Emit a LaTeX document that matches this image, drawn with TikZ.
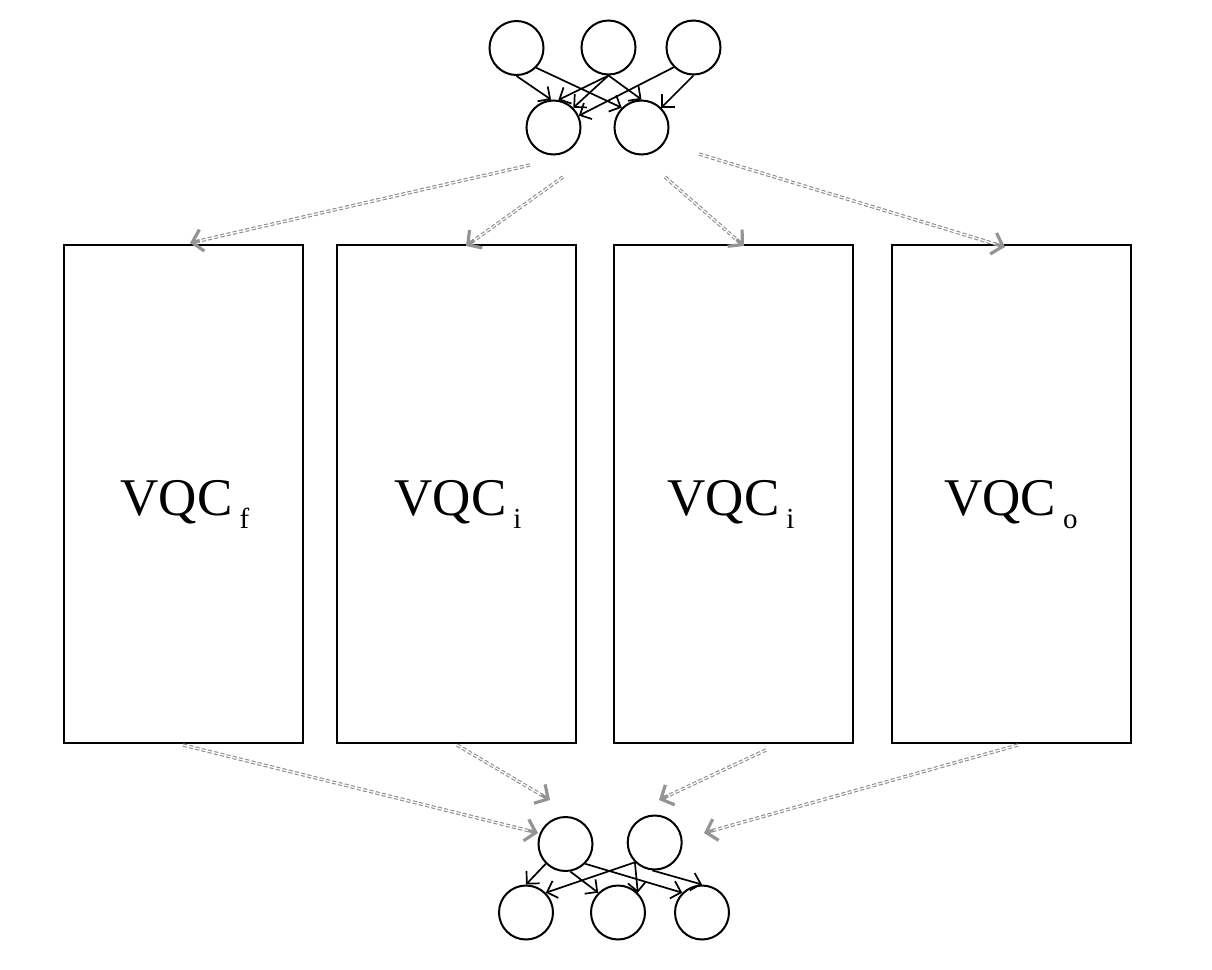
\documentclass[tikz,border=0pt]{standalone}
\usepackage{fontspec}
\setmainfont{Liberation Serif}
\usetikzlibrary{arrows.meta,calc}
\newcommand\vqclabel[1]{VQC\hspace{3.5pt}\raisebox{-6.5pt}{\fontsize{14.5}{16}\selectfont #1}}
\begin{document}
\begin{tikzpicture}[x=0.5pt,y=-0.5pt,
  neuron/.style={circle,draw=black,line width=1pt,minimum size=27pt,inner sep=0pt},
  vqcbox/.style={draw=black,line width=1pt,minimum width=119.5pt,minimum height=249pt,inner sep=0pt},
  vqctext/.style={anchor=base,inner sep=0pt,font=\fontsize{26.5}{30}\selectfont},
  nnarrow/.style={-{Straight Barb[length=4.5pt,width=9pt]},line width=0.85pt},
  dline/.style={draw=black!45,double=white,line width=0.55pt,double distance=0.6pt,dash pattern=on 2pt off 1.2pt,shorten >=2pt},
  dtip/.style={draw=black!42,line width=1.6pt,-{Straight Barb[length=5pt,width=11pt]}}
]
\useasboundingbox (0,0) rectangle (1212,970);
% top network
\node[neuron] (A) at (516.5,48) {};
\node[neuron] (B) at (608.5,47.5) {};
\node[neuron] (C) at (693.5,47.5) {};
\node[neuron] (D) at (553.5,127.5) {};
\node[neuron] (E) at (641.5,127.5) {};
\draw[nnarrow] (A.south) -- (D.95);
\draw[nnarrow] (A.-45) -- (E.135);
\draw[nnarrow] (B.south) -- (D.80);
\draw[nnarrow] (B.south) -- (D.north east);
\draw[nnarrow] (B.south) -- (E.north);
\draw[nnarrow] (C.-135) -- (D.25);
\draw[nnarrow] (C.south) -- (E.north east);
% boxes
\node[vqcbox] (V1) at (183.5,494) {};
\node[vqcbox] (V2) at (456,494) {};
\node[vqcbox] (V3) at (733,494) {};
\node[vqcbox] (V4) at (1011,494) {};
\node[vqctext] (L1) at (185,515) {\vqclabel{f}};
\node[vqctext] (L2) at (458,515) {\vqclabel{i}};
\node[vqctext] (L3) at (731,515) {\vqclabel{i}};
\node[vqctext] (L4) at (1011,515) {\vqclabel{o}};
% bottom network
\node[neuron] (F) at (565.5,844) {};
\node[neuron] (H) at (654.7,842.5) {};
\node[neuron] (G) at (526,912.5) {};
\node[neuron] (K) at (618,912.5) {};
\node[neuron] (I) at (702,912.5) {};
\draw[nnarrow] (F.-135) -- (G.north);
\draw[nnarrow] (H.-135) -- (G.45);
\draw[nnarrow] (F.-80) -- (K.135);
\draw[nnarrow] (H.-135) -- (K.45);
\draw[nnarrow] (F.-45) -- (I.135);
\draw[nnarrow] (H.-95) -- (I.north);
% dashed connector endpoints
\coordinate (s1) at (530,165);  \coordinate (e1) at (190,243);
\coordinate (s2) at (563,177);  \coordinate (e2) at (466,246);
\coordinate (s3) at (665,177);  \coordinate (e3) at (744,246);
\coordinate (s4) at (699,154);  \coordinate (e4) at (1005,247);
\coordinate (s5) at (183,745);  \coordinate (e5) at (538,833);
\coordinate (s6) at (457,745);  \coordinate (e6) at (550,800);
\coordinate (s7) at (766,750);  \coordinate (e7) at (659,800);
\coordinate (s8) at (1018,745); \coordinate (e8) at (704,833);
\foreach \i in {1,...,8}{
  \draw[dline] (s\i) -- (e\i);
  \draw[dtip] ($(e\i)!5pt!(s\i)$) -- (e\i);
}
\end{tikzpicture}
\end{document}
